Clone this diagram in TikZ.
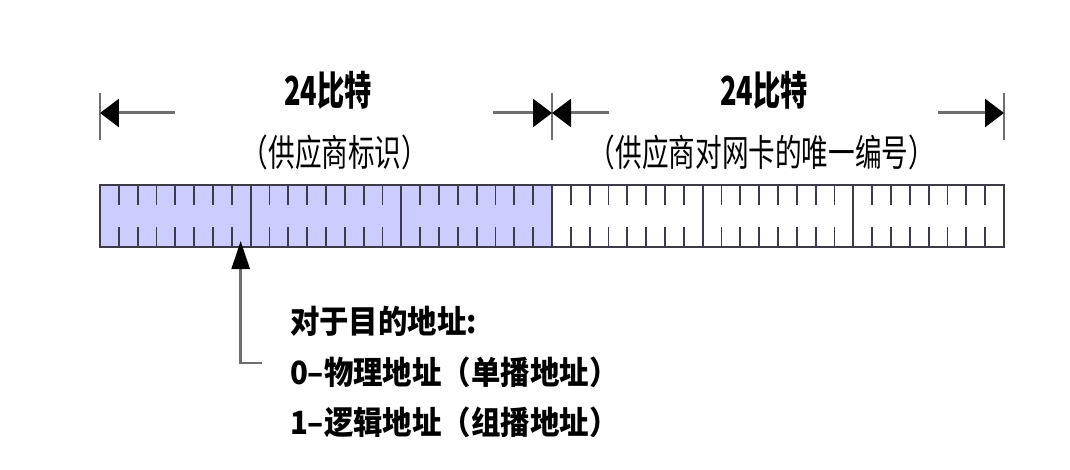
\documentclass[tikz,border=0pt]{standalone}
\usepackage{fontspec}
\newfontfamily\cjk[FakeStretch=0.68]{Noto Sans CJK SC}
\newfontfamily\cjksub[FakeStretch=0.72]{Noto Sans CJK SC}
\newfontfamily\cjknote[FakeStretch=0.92]{Noto Sans CJK SC}
\usetikzlibrary{positioning,arrows.meta}
\definecolor{oui}{RGB}{204,204,255}
\definecolor{rule}{RGB}{60,60,72}
\definecolor{lead}{RGB}{110,110,110}

\begin{document}
\begin{tikzpicture}
[x=1pt,y=-1pt,
 every node/.style={inner sep=0pt,outer sep=0pt},
 byte/.style={draw=rule,line width=1.8pt,minimum width=150.67pt,minimum height=62pt},
 vendor/.style={byte,fill=oui},
 serial/.style={byte,fill=white},
 bit/.style={draw=rule,line width=1.8pt},
 dim/.style={draw=lead,line width=3pt,-{Triangle[length=19pt,width=28pt,color=black]}},
 ptr/.style={draw=lead,line width=2.5pt,-{Triangle[length=28pt,width=18pt,color=black]}},
 endtick/.style={draw=lead,line width=1.6pt},
 head/.style={font=\cjk\fontsize{40}{48}\selectfont\bfseries},
 sub/.style={font=\cjksub\fontsize{37}{44}\selectfont},
 note/.style={anchor=base west,font=\cjknote\fontsize{32}{38}\selectfont\bfseries}]
\useasboundingbox (0,0) rectangle (1070,470);

% the six bytes of the address
\node[vendor] (b1) at (175.33,216) {};
\node[vendor] (b2) [right=0pt of b1] {};
\node[vendor] (b3) [right=0pt of b2] {};
\node[serial] (b4) [right=0pt of b3] {};
\node[serial] (b5) [right=0pt of b4] {};
\node[serial] (b6) [right=0pt of b5] {};
\foreach \b in {b1,b2,b3,b4,b5,b6}
  \foreach \k in {1,...,7} {
    \draw[bit] ([xshift=\k*18.83pt]\b.north west) -- ++(0,20);
    \draw[bit] ([xshift=\k*18.83pt]\b.south west) -- ++(0,-20);
  }

% dimension lines
\coordinate (d0) at ([yshift=72pt]b1.north west);
\coordinate (d1) at ([yshift=72pt]b4.north west);
\coordinate (d2) at ([yshift=72pt]b6.north east);
\coordinate (d0r) at ([xshift=75pt]d0);
\coordinate (d1l) at ([xshift=-59pt]d1);
\coordinate (d1r) at ([xshift=57pt]d1);
\coordinate (d2l) at ([xshift=-66pt]d2);
\foreach \d in {d0,d1,d2}
  \draw[endtick] ([yshift=20pt]\d) -- ([yshift=-27pt]\d);
\draw[dim] (d0r) -- (d0);
\draw[dim] (d1l) -- (d1);
\draw[dim] (d1r) -- (d1);
\draw[dim] (d2l) -- (d2);

\node[head] (bits1) at (328,90)  {24比特};
\node[sub]  (oui1)  at (335,152) {（供应商标识）};
\node[head] (bits2) at (764,90)  {24比特};
\node[sub]  (nic2)  at (762,152) {（供应商对网卡的唯一编号）};

% the I/G bit
\node[note] (note1) at (290,333) {对于目的地址:};
\node[note] (note2) at (290,384) {0–物理地址（单播地址）};
\node[note] (note3) at (290,434) {1–逻辑地址（组播地址）};
\coordinate (bit8) at ([xshift=-10pt,yshift=6pt]b1.south east);
\coordinate (hook) at (262,363);
\draw[ptr] (hook) -| (bit8);
\end{tikzpicture}
\end{document}
